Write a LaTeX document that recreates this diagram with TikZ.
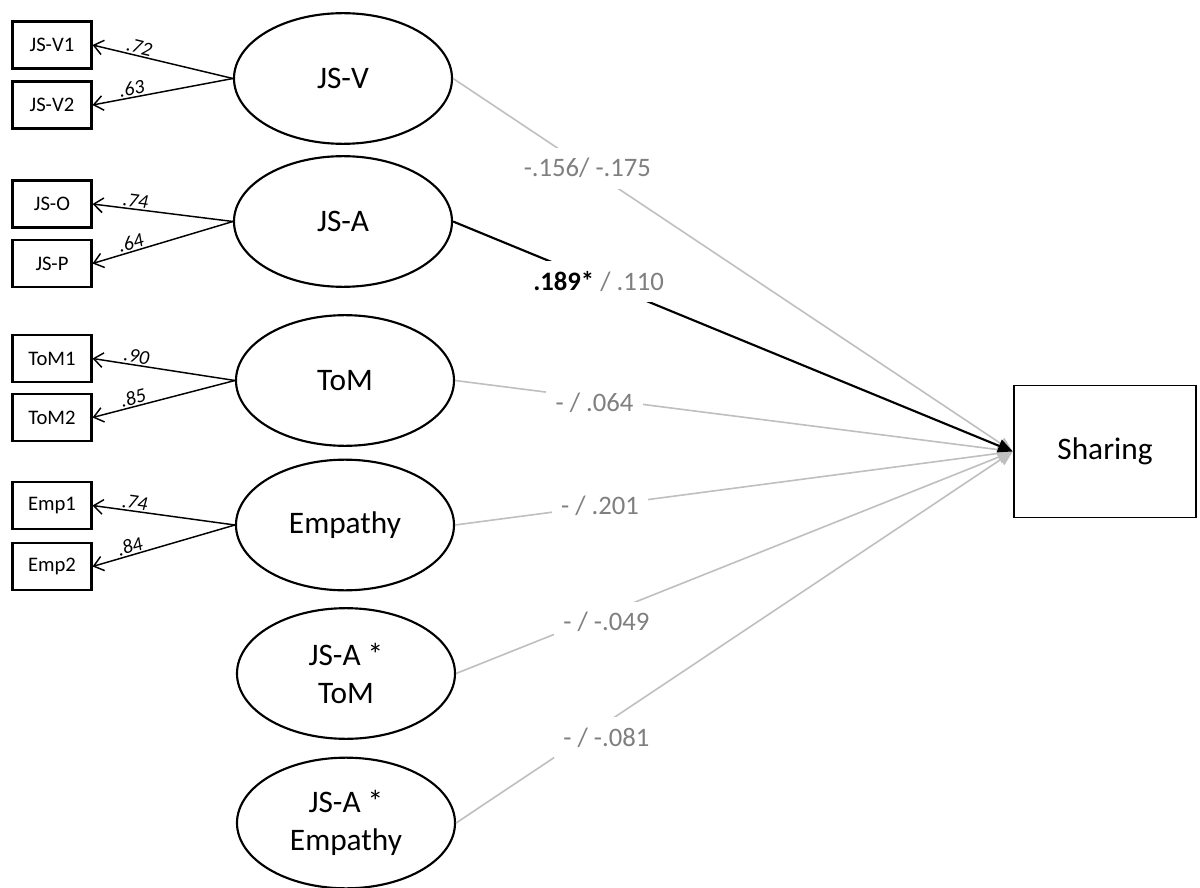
\documentclass[tikz,border=0pt]{standalone}
\usepackage{fontspec}
\setmainfont{Carlito}
\usetikzlibrary{shapes.geometric,arrows.meta}
\definecolor{pathgray}{HTML}{BFBFBF}
\definecolor{labgray}{HTML}{7F7F7F}

\begin{document}
\begin{tikzpicture}[x=0.75pt,y=-0.75pt,
  latent/.style={ellipse,draw,line width=1.6pt,minimum width=163.5pt,minimum height=98pt,
    inner sep=0pt,align=center,font=\fontsize{23.5}{28.5}\selectfont},
  indicator/.style={rectangle,draw,line width=1.8pt,minimum width=59pt,minimum height=35pt,
    inner sep=0pt,font=\fontsize{15.5}{18}\selectfont},
  outcome/.style={rectangle,draw,line width=1.4pt,minimum width=137pt,minimum height=99pt,
    font=\fontsize{23.5}{28}\selectfont},
  loading/.style={line width=1.1pt,{Straight Barb[length=7pt,width=11pt]}-},
  loadlab/.style={sloped,above,inner sep=1pt,font=\fontsize{15}{17}\selectfont\itshape},
  effect/.style={line width=1.2pt,draw=pathgray,-{Triangle[length=11pt,width=10pt]}},
  keyeffect/.style={line width=1.6pt,draw=black,-{Triangle[length=11pt,width=10pt]}},
  effectlab/.style={fill=white,text=labgray,inner xsep=7pt,inner ysep=8pt,
    font=\fontsize{20}{24}\selectfont},
]
\path[use as bounding box] (0,0) rectangle (1200,888);

% latent factors
\node[latent] (jsv)  at (343,78.5)  {JS-V};
\node[latent] (jsa)  at (343,221.5) {JS-A};
\node[latent] (tom)  at (345,380.5) {ToM};
\node[latent] (emp)  at (345,525)   {Empathy};
\node[latent] (int1) at (346,673.5) {JS-A *\\ToM};
\node[latent] (int2) at (346,823)   {JS-A *\\Empathy};

% observed indicators
\node[indicator] (v1) at (52,45)    {JS-V1};
\node[indicator] (v2) at (52,105)   {JS-V2};
\node[indicator] (jo) at (52,204)   {JS-O};
\node[indicator] (jp) at (52,263.5) {JS-P};
\node[indicator] (t1) at (52,358.5) {ToM1};
\node[indicator] (t2) at (52,417.5) {ToM2};
\node[indicator] (e1) at (52,505.5) {Emp1};
\node[indicator] (e2) at (52,566.5) {Emp2};

% outcome
\node[outcome] (share) at (1105,451.5) {Sharing};

% measurement loadings
\draw[loading] (v1.east) -- node[loadlab,pos=0.32] {.72} (jsv.west);
\draw[loading] (v2.east) -- node[loadlab,pos=0.29] {.63} (jsv.west);
\draw[loading] (jo.east) -- node[loadlab,pos=0.30] {.74} (jsa.west);
\draw[loading] (jp.east) -- node[loadlab,pos=0.29] {.64} (jsa.west);
\draw[loading] (t1.east) -- node[loadlab,pos=0.30] {.90} (tom.west);
\draw[loading] (t2.east) -- node[loadlab,pos=0.30] {.85} (tom.west);
\draw[loading] (e1.east) -- node[loadlab,pos=0.29] {.74} (emp.west);
\draw[loading] (e2.east) -- node[loadlab,pos=0.28] {.84} (emp.west);

% structural paths
\draw[effect] (jsv.east)  -- node[effectlab,pos=0.24] {-.156/ -.175} (share.west);
\draw[effect] (tom.east)  -- node[effectlab,pos=0.25,yshift=-3.5pt] {- / .064} (share.west);
\draw[effect] (emp.east)  -- node[effectlab,pos=0.26] {- / .201} (share.west);
\draw[effect] (int1.east) -- node[effectlab,pos=0.27,yshift=-6.5pt] {- / -.049} (share.west);
\draw[effect] (int2.east) -- node[effectlab,pos=0.27,yshift=-11pt] {- / -.081} (share.west);
\draw[keyeffect] (jsa.east) -- node[effectlab,pos=0.26] {\textbf{\color{black}.189*} / .110} (share.west);
\end{tikzpicture}
\end{document}
